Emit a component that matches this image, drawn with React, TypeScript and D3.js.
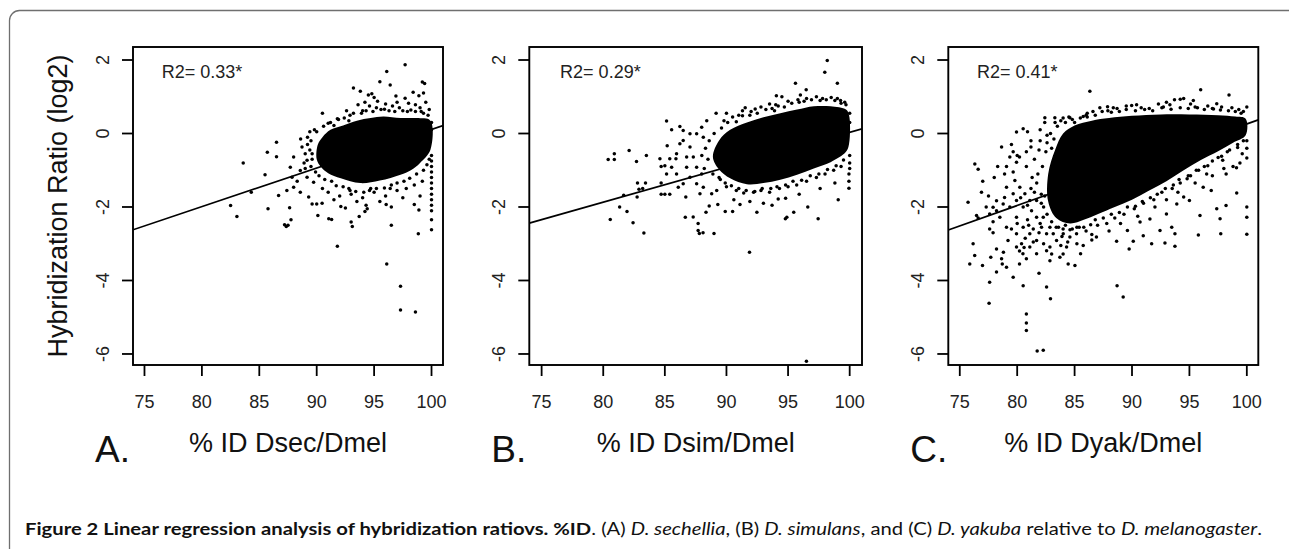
import React from "react";
import * as d3 from "d3";

// ---------- data ----------
const xTicks = [75, 80, 85, 90, 95, 100];
const yTicks = [-6, -4, -2, 0, 2];
const panelLetters = ["A.", "B.", "C."];
const xTitles = ["% ID Dsec/Dmel", "% ID Dsim/Dmel", "% ID Dyak/Dmel"];
const r2Labels = ["R2= 0.33*", "R2= 0.29*", "R2= 0.41*"];
const fitSlopes = [0.105, 0.095, 0.111];
const fitAt100 = [0.11, 0.03, 0.26];

// saturated (overplotted) cores of each cloud
const coreA: [number, number][] = [
  [90.1, -0.3], [90.5, -0.1], [91.2, 0.1], [92.3, 0.22], [93.5, 0.35], [94.7, 0.42], [95.8, 0.46],
  [97.3, 0.42], [98.7, 0.42], [99.9, 0.35], [99.9, -0.45], [99.0, -0.8], [98.2, -1.0], [97.3, -1.12],
  [95.5, -1.28], [93.8, -1.35], [92.1, -1.22], [91.0, -1.08], [90.4, -0.92], [90.0, -0.7],
];
const coreB: [number, number][] = [
  [88.9, -0.64], [89.4, -0.19], [90.3, 0.1], [91.66, 0.3], [93.0, 0.44], [94.37, 0.55], [95.73, 0.65],
  [97.09, 0.74], [98.45, 0.74], [99.7, 0.65], [99.95, 0.5], [99.95, -0.28], [99.7, -0.5], [98.45, -0.78],
  [97.09, -0.95], [95.73, -1.12], [94.37, -1.26], [93.0, -1.35], [91.66, -1.38], [90.3, -1.22], [89.4, -0.98],
];
const coreC: [number, number][] = [
  [83.3, -0.45], [84.0, 0.0], [85.0, 0.22], [86.5, 0.35], [88.0, 0.42], [90.0, 0.48], [92.5, 0.52],
  [95.0, 0.52], [97.5, 0.5], [99.0, 0.46], [99.9, 0.4], [99.9, -0.05], [98.8, -0.25], [97.5, -0.48],
  [96.0, -0.72], [94.5, -1.0], [93.0, -1.3], [91.5, -1.55], [90.0, -1.8], [88.5, -2.0], [87.0, -2.2],
  [85.8, -2.35], [84.6, -2.45], [83.4, -2.3], [82.7, -1.85], [82.7, -1.1],
];

const pointsA: [number, number][] = [
  [97.7, 1.87], [96.1, 1.69], [95.5, 1.41], [96.4, 1.32], [99.2, 1.4], [99.4, 1.36], [93.2, 1.24], [93.8, 1.15],
  [94.5, 1.05], [94.8, 1.08], [95.0, 0.98], [97.7, 0.96], [98.9, 1.03], [99.3, 1.1], [90.5, 0.55], [91.8, 0.4],
  [92.6, 0.62], [93.6, 0.78], [94.2, 0.85], [95.3, 0.88], [96.0, 0.8], [96.6, 0.75], [97.2, 0.7], [98.0, 0.82],
  [98.6, 0.78], [99.5, 0.85], [99.8, 0.65], [95.6, 0.65], [94.0, 0.62], [96.9, 1.02], [98.4, 1.12], [92.9, 0.5],
  [91.2, 0.3], [89.8, 0.1], [97.9, 0.6], [99.1, 0.6],
  [90.0, 0.05], [90.6, 0.2], [91.0, 0.28], [91.5, 0.22], [91.9, 0.38], [92.4, 0.42], [92.8, 0.35], [93.2, 0.55],
  [93.9, 0.55], [94.3, 0.62], [94.9, 0.6], [95.2, 0.7], [95.9, 0.66], [96.3, 0.62], [96.8, 0.6], [97.5, 0.62],
  [98.2, 0.64], [98.6, 0.6], [99.0, 0.7], [99.3, 0.55], [99.7, 0.5], [97.0, 0.85], [94.6, 0.75],
  [86.5, -0.24], [85.7, -0.51], [86.5, -0.63], [83.6, -0.8], [85.5, -1.12], [88.72, -0.37], [87.99, -0.64],
  [87.7, -0.92], [89.16, -0.73], [89.6, -0.55], [88.57, -1.01], [87.85, -1.19], [89.16, -1.19], [87.99, -1.46],
  [87.4, -1.55], [86.68, -1.69], [88.57, -1.6], [89.73, -1.33], [89.3, -1.73], [89.4, 0.05], [88.6, -0.15],
  [89.2, -0.3], [88.3, -1.3], [89.0, -0.95], [84.3, -1.6],
  [89.5, -0.2], [89.4, -0.45], [89.6, -0.7], [89.5, -0.9], [89.9, -1.05], [89.2, -0.1], [89.0, -0.55], [88.9, -0.8],
  [90.2, -1.15], [90.7, -1.25], [91.3, -1.3], [91.7, -1.42], [92.3, -1.45], [92.9, -1.55], [93.4, -1.58],
  [94.1, -1.6], [94.7, -1.5], [95.2, -1.5], [95.9, -1.48], [96.5, -1.4], [97.0, -1.35], [97.6, -1.3],
  [98.1, -1.22], [98.7, -1.1], [99.3, -1.0], [99.6, -0.85], [99.8, -0.7],
  [82.5, -1.96], [83.05, -2.26], [85.76, -2.05], [87.2, -2.48], [87.35, -2.53], [87.5, -2.5], [87.76, -2.35],
  [87.64, -2.02], [89.6, -1.92], [90.0, -1.92], [90.47, -1.9], [90.1, -2.23], [91.05, -2.32], [91.3, -2.34],
  [91.8, -3.07], [92.1, -1.99], [92.5, -2.03], [93.0, -2.41], [93.1, -2.53], [93.7, -2.26], [94.2, -2.12],
  [94.4, -2.05], [94.3, -1.95], [96.1, -3.55], [96.05, -1.93], [96.5, -2.0], [96.5, -2.5], [97.3, -4.16],
  [97.3, -4.8], [98.6, -4.86], [98.5, -1.93], [98.9, -2.08], [98.85, -2.73], [100, -2.35], [100, -2.62],
  [91, -1.6], [92, -1.7], [93, -1.65], [94, -1.75], [95, -1.6], [96, -1.7], [97, -1.55], [97.8, -1.5],
  [98.5, -1.4], [99.2, -1.3], [90.5, -1.5], [91.5, -1.8], [93.5, -1.85], [95.5, -1.85], [97.5, -1.75],
  [99.0, -1.7], [92.8, -1.5], [94.6, -1.55], [96.4, -1.5],
  [100, 0.3], [100, 0.1], [100, -0.6], [100, -0.75], [100, -0.9], [100, -1.05], [100, -1.2], [100, -1.35],
  [100, -1.5], [100, -1.65], [100, -1.8], [100, -1.95], [100, -2.1],
];

const pointsB: [number, number][] = [
  [98.18, 1.99], [97.98, 1.67], [99.0, 1.37], [95.6, 1.37], [96.47, 1.19], [94.05, 1.03], [94.5, 1.0],
  [99.26, 0.9], [91.52, 0.7], [92.33, 0.67], [89.16, 0.55], [85.14, 0.34], [86.22, 0.19], [85.55, 0.1],
  [85.19, -0.33], [84.6, -0.69], [85.4, -0.69], [85.9, -0.69], [80.4, -0.71], [80.9, -0.71], [80.9, -0.55],
  [82.1, -0.46], [83.5, -0.6], [82.7, -0.76], [84.7, -0.9], [85.0, -0.88], [82.78, -1.35], [83.43, -1.35],
  [82.9, -1.52], [83.2, -1.5], [82.75, -1.73], [81.66, -1.68], [81.33, -2.0], [81.93, -2.12], [80.57, -2.34],
  [82.42, -2.43], [83.3, -2.71], [84.7, -1.65], [85.0, -1.65], [85.4, -1.65], [84.7, -1.35], [86.7, -1.73],
  [86.66, -2.28], [87.3, -2.27], [87.7, -2.45], [87.7, -2.64], [87.8, -2.72], [88.1, -2.7], [88.99, -2.72],
  [88.34, -2.14], [88.6, -1.97], [89.3, -1.93], [89.9, -2.12], [90.5, -2.12], [91.1, -1.93], [91.87, -3.23],
  [96.49, -6.2], [94.78, -2.32], [94.9, -2.28], [95.46, -2.14], [96.6, -2.0], [97.44, -2.32], [99.07, -1.8],
  [99.94, -1.49], [99.94, -1.3], [99.94, -1.1], [93.7, -1.95], [94.2, -1.78], [94.8, -1.76], [92.47, -2.14],
  [93.0, -1.9],
  [86.49, -0.19], [87.04, -0.37], [87.31, -0.64], [87.58, -0.92], [87.99, -1.1], [86.77, -0.92], [87.04, -1.19],
  [86.49, -1.37], [87.58, -1.37], [88.12, -1.46], [87.85, -1.64], [88.8, -1.64], [89.21, -1.55], [88.4, 0.35],
  [87.99, 0.17], [87.58, -0.01], [88.12, -0.1], [87.04, -0.01], [86.49, 0.08], [86.22, -0.28], [85.95, -0.55],
  [85.55, -0.92], [85.14, -1.1], [85.95, -1.1], [86.09, -1.46], [86.77, -0.64],
  [88.3, -0.4], [88.5, -0.7], [88.2, -0.95], [88.6, -0.2], [88.0, -0.6],
  [89.8, 0.35], [90.5, 0.45], [91.0, 0.5], [92.0, 0.6], [92.8, 0.72], [93.5, 0.8], [94.2, 0.75], [95.0, 0.88],
  [95.8, 0.92], [96.5, 0.95], [97.3, 1.0], [97.8, 0.95], [98.5, 0.98], [99.0, 0.95], [99.6, 0.85], [96.0, 1.05],
  [93.9, 0.62], [91.3, 0.62], [90.0, 0.55],
  [89.0, 0.0], [89.6, 0.15], [90.1, 0.3], [90.8, 0.32], [91.3, 0.48], [91.9, 0.5], [92.5, 0.55], [93.2, 0.65],
  [93.7, 0.68], [94.0, 0.78], [94.7, 0.72], [95.3, 0.82], [95.9, 0.85], [96.3, 0.88], [96.9, 0.92], [97.6, 0.9],
  [98.1, 0.92], [98.8, 0.9], [99.3, 0.82], [99.7, 0.78],
  [88.9, -1.1], [89.4, -1.2], [89.9, -1.35], [90.4, -1.42], [91.0, -1.5], [91.6, -1.55], [92.3, -1.58],
  [92.9, -1.5], [93.6, -1.5], [94.1, -1.45], [94.8, -1.4], [95.4, -1.3], [96.1, -1.27], [96.8, -1.15],
  [97.5, -1.1], [98.2, -0.98], [98.9, -0.88], [99.5, -0.72],
  [89.5, -1.25], [90.0, -1.45], [90.8, -1.55], [91.4, -1.62], [92.2, -1.6], [92.8, -1.55], [93.5, -1.6],
  [94.3, -1.5], [95.0, -1.45], [95.7, -1.4], [96.5, -1.3], [97.3, -1.2], [98.0, -1.1], [98.7, -1.0], [99.3, -0.9],
  [90.6, -1.8], [91.9, -1.85], [95.9, -1.65], [97.6, -1.5], [98.8, -1.35],
  [100, 0.55], [100, 0.3], [100, -0.6], [100, -0.8], [100, -0.95],
];

const pointsC: [number, number][] = [
  [86.33, 1.15], [95.98, 1.19], [98.45, 1.05], [93.7, 0.92], [94.2, 0.93], [94.5, 0.95], [95.34, 0.9],
  [87.87, 0.73], [88.37, 0.7], [89.97, 0.76], [90.4, 0.78], [92.73, 0.72], [97.38, 0.81], [100, 0.72],
  [82.41, 0.43], [83.28, 0.43], [84.0, 0.42], [84.59, 0.43], [85.75, 0.46], [86.1, 0.45], [80.52, 0.13],
  [79.94, 0.04], [78.64, -0.37], [79.36, -0.64], [79.65, -0.5], [79.07, -0.9], [79.94, -0.78], [80.2, -0.64],
  [80.8, -0.5], [81.2, -0.37], [76.31, -0.83], [76.6, -0.97], [76.89, -1.6], [75.72, -1.87], [76.46, -2.23],
  [77.6, -2.19], [77.9, -2.01], [78.2, -1.83], [78.78, -1.92], [78.9, -1.74], [77.6, -2.6], [77.9, -2.7],
  [76.16, -3.0], [76.3, -3.32], [75.87, -3.55], [76.98, -3.59], [77.7, -3.37], [78.2, -3.14], [77.6, -4.05],
  [77.55, -4.62], [78.2, -3.77], [78.64, -3.41], [78.8, -3.23], [78.7, -3.55], [79.07, -3.64], [79.65, -3.91],
  [80.52, -4.14], [80.2, -3.55], [80.8, -3.41], [80.5, -3.27], [80.8, -4.91], [80.8, -5.16], [80.8, -5.36],
  [81.74, -5.92], [82.27, -5.9], [81.9, -3.8], [82.56, -4.18], [82.9, -4.5], [82.85, -3.46], [83.0, -3.28],
  [82.56, -3.19], [83.72, -3.37], [84.0, -3.28], [84.44, -3.55], [85.03, -3.59], [85.52, -3.27], [84.3, -3.09],
  [85.2, -3.0], [85.75, -3.05], [86.5, -2.9], [86.9, -2.82], [88.66, -2.93], [88.7, -4.14], [89.23, -4.45],
  [89.75, -3.14], [90.11, -2.93], [90.98, -2.78], [91.71, -3.0], [92.87, -2.98], [93.74, -3.07], [92.44, -2.64],
  [93.46, -2.55], [93.74, -2.73], [95.78, -2.76], [95.92, -2.23], [97.73, -2.73], [97.67, -2.32], [98.19, -1.96],
  [97.38, -2.05], [99.12, -1.62], [100, -2.0], [100, -2.28], [100, -2.74], [100, -0.67], [100, -0.4], [100, -0.2],
  [99.1, -0.93], [98.8, -0.9], [98.2, -1.1], [96.9, -1.55], [96.2, -1.46], [95.0, -1.82], [94.5, -1.73],
  [93.9, -1.92], [93.0, -2.19], [91.56, -2.33], [90.7, -2.41], [89.6, -2.64], [94.8, -1.23], [96.5, -1.1],
  [97.9, -0.73],
  [79.65, -1.05], [79.8, -1.28], [80.23, -1.46], [80.67, -1.64], [81.1, -1.82], [79.94, -1.82], [80.52, -2.0],
  [81.25, -2.1], [81.69, -2.28], [79.94, -2.28], [80.52, -2.55], [81.1, -2.73], [81.69, -2.91], [79.94, -2.73],
  [80.38, -3.0], [79.36, -2.0], [79.07, -1.46], [79.65, -1.64], [82.12, -2.55], [82.56, -2.73], [83.14, -2.73],
  [81.69, -1.82], [82.27, -2.28], [82.85, -2.55], [83.43, -2.91], [84.01, -2.73], [84.59, -2.82], [85.17, -2.73],
  [81.1, -3.09], [79.94, -3.09], [79.07, -2.55], [78.49, -2.28], [79.2, -2.91], [81.69, -3.27], [82.85, -3.09],
  [80.0, -2.45], [80.9, -2.35], [81.4, -2.6], [80.7, -2.85], [81.9, -2.7], [82.3, -3.0], [80.2, -3.2],
  [81.4, -2.95], [82.0, -2.45], [82.6, -2.2], [83.0, -2.4], [83.6, -2.55], [84.2, -2.5], [83.8, -3.05],
  [84.8, -2.6], [85.4, -2.55], [80.9, -1.95], [81.5, -1.6], [82.1, -1.9], [80.3, -1.75], [79.5, -2.6],
  [80.6, -3.1], [81.0, -2.5], [82.4, -1.7],
  [77.0, -1.3], [77.5, -1.7], [78.0, -1.2], [78.3, -0.9], [78.9, -1.1], [79.5, -0.3], [80.0, -0.6], [80.8, -0.9],
  [81.3, -1.2], [78.2, -2.1], [77.9, -2.4], [76.6, -2.3], [77.3, -2.0],
  [82.0, 0.1], [82.6, -0.05], [83.3, 0.3], [83.8, 0.35], [84.5, 0.45], [85.0, 0.3], [86.0, 0.5], [86.6, 0.6],
  [87.2, 0.7], [87.9, 0.62], [88.7, 0.68], [89.5, 0.75], [90.8, 0.7], [91.5, 0.68], [92.3, 0.8], [93.0, 0.85],
  [93.3, 0.78], [95.1, 0.8], [95.5, 0.72], [96.6, 0.75], [97.0, 0.68], [97.8, 0.72], [98.7, 0.7], [99.3, 0.65],
  [99.7, 0.6], [81.2, -0.2], [80.9, 0.05], [82.4, 0.3], [83.0, -0.4],
  [84.2, 0.3], [84.8, 0.38], [85.5, 0.42], [86.1, 0.55], [86.8, 0.5], [87.4, 0.6], [88.2, 0.58], [88.9, 0.6],
  [89.5, 0.65], [90.3, 0.62], [91.1, 0.65], [91.8, 0.62], [92.6, 0.7], [93.4, 0.66], [94.2, 0.7], [94.9, 0.68],
  [95.7, 0.7], [96.3, 0.65], [97.1, 0.67], [97.7, 0.64], [98.4, 0.62], [99.0, 0.6], [99.5, 0.55], [83.5, 0.2],
  [82.9, 0.0],
  [82.0, -0.2], [82.5, -0.5], [82.2, -0.9], [81.8, -1.1], [81.5, -0.7], [81.9, -0.45], [82.6, -0.25],
  [83.2, -0.15], [81.2, -1.5], [81.7, -1.35], [82.1, -1.65], [82.3, -2.0], [83.4, -2.55], [84.0, -2.6],
  [84.6, -2.62], [85.2, -2.55], [83.9, -2.8], [84.4, -2.95], [85.8, -2.55], [86.4, -2.48],
  [86.8, -2.35], [87.5, -2.3], [88.2, -2.2], [88.9, -2.15], [89.6, -2.0], [90.3, -1.98], [90.9, -1.85],
  [91.6, -1.75], [92.2, -1.65], [92.9, -1.5], [93.6, -1.4], [94.1, -1.25], [94.9, -1.15], [95.6, -1.0],
  [96.3, -0.9], [97.0, -0.75], [97.8, -0.62], [98.5, -0.45], [99.2, -0.3], [99.7, -0.2],
  [86.0, -2.65], [87.0, -2.5], [87.8, -2.45], [88.5, -2.3], [89.3, -2.2], [90.2, -2.05], [91.0, -1.9],
  [91.9, -1.8], [92.6, -1.6], [93.5, -1.5], [94.2, -1.35], [95.1, -1.15], [95.8, -1.0], [96.6, -0.88],
  [97.5, -0.65], [98.3, -0.5], [99.2, -0.38], [99.6, -0.55], [86.5, -2.75], [88.0, -2.65], [89.0, -2.45],
  [90.5, -2.25], [92.0, -2.0], [93.0, -1.8], [94.0, -1.6], [95.5, -1.35], [97.0, -1.15], [98.0, -0.95],
  [99.4, -0.8],
];

const cores = [coreA, coreB, coreC];
const pointSets = [pointsA, pointsB, pointsC];

// ---------- layout ----------
const W = 1289;
const H = 549;
const boxTop = 47;
const boxBottom = 365;
const boxLefts = [133, 529.3, 948.3];
const boxRights = [443, 862, 1258.3];
const xDomain = [74, 101];
const yDomain = [-6.3, 2.354];
const FONT = "'Liberation Sans', Arial, Helvetica, sans-serif";

function Panel({ i }: { i: number }) {
  const left = boxLefts[i];
  const right = boxRights[i];
  const x = d3.scaleLinear().domain(xDomain).range([left, right]);
  const y = d3.scaleLinear().domain(yDomain).range([boxBottom, boxTop]);
  const area = d3
    .line<[number, number]>()
    .x((d) => x(d[0]))
    .y((d) => y(d[1]))
    .curve(d3.curveCatmullRomClosed.alpha(0.5));
  const fit = (v: number) => fitAt100[i] + fitSlopes[i] * (v - 100);
  const clipId = `clip${i}`;
  const cx = (left + right) / 2;
  return (
    <g>
      <defs>
        <clipPath id={clipId}>
          <rect x={left} y={boxTop} width={right - left} height={boxBottom - boxTop} />
        </clipPath>
      </defs>
      <g clipPath={`url(#${clipId})`}>
        <path d={area(cores[i]) || ""} fill="#000" />
        {pointSets[i].map((p, k) => (
          <circle key={k} cx={x(p[0])} cy={y(p[1])} r={1.75} fill="#000" />
        ))}
        <line
          x1={x(xDomain[0])}
          y1={y(fit(xDomain[0]))}
          x2={x(xDomain[1])}
          y2={y(fit(xDomain[1]))}
          stroke="#000"
          strokeWidth={1.7}
        />
      </g>
      <rect x={left} y={boxTop} width={right - left} height={boxBottom - boxTop} fill="none" stroke="#000" strokeWidth={1.9} />
      {xTicks.map((t) => (
        <g key={"x" + t}>
          <line x1={x(t)} x2={x(t)} y1={boxBottom} y2={boxBottom + 11} stroke="#000" strokeWidth={1.8} />
          <text x={x(t)} y={boxBottom + 43} textAnchor="middle" fontSize={18} fill="#222">
            {t}
          </text>
        </g>
      ))}
      {yTicks.map((t) => (
        <g key={"y" + t}>
          <line x1={left - 11} x2={left} y1={y(t)} y2={y(t)} stroke="#000" strokeWidth={1.8} />
          <text transform={`translate(${left - 24},${y(t)}) rotate(-90)`} textAnchor="middle" fontSize={18} fill="#222">
            {t}
          </text>
        </g>
      ))}
      <text x={x(76.5)} y={y(1.5)} fontSize={18} fill="#222">
        {r2Labels[i]}
      </text>
      <text x={cx} y={452} textAnchor="middle" fontSize={27} fill="#111">
        {xTitles[i]}
      </text>
      <text x={left - 38} y={462} fontSize={37} fill="#111">
        {panelLetters[i]}
      </text>
    </g>
  );
}

export default function App() {
  return (
    <svg
      width={W}
      height={H}
      style={{ position: "absolute", left: 0, top: 0, background: "#fff" }}
      fontFamily={FONT}
    >
      <rect x={9.5} y={10.5} width={1300} height={620} rx={10} fill="#fff" stroke="#6f6f6f" strokeWidth={1.3} />
      <text transform="translate(67,206) rotate(-90)" textAnchor="middle" fontSize={27} fill="#111">
        Hybridization Ratio (log2)
      </text>
      {[0, 1, 2].map((i) => (
        <Panel key={i} i={i} />
      ))}
      <text x={25} y={535} fontFamily="Lato, 'Open Sans', sans-serif" fontSize={17} fill="#111" textLength={1237} lengthAdjust="spacingAndGlyphs">
        <tspan fontWeight="bold">Figure 2 Linear regression analysis of hybridization ratiovs. %ID</tspan>
        <tspan>. (A) </tspan>
        <tspan fontStyle="italic">D. sechellia</tspan>
        <tspan>, (B) </tspan>
        <tspan fontStyle="italic">D. simulans</tspan>
        <tspan>, and (C) </tspan>
        <tspan fontStyle="italic">D. yakuba</tspan>
        <tspan> relative to </tspan>
        <tspan fontStyle="italic">D. melanogaster</tspan>
        <tspan>.</tspan>
      </text>
    </svg>
  );
}
